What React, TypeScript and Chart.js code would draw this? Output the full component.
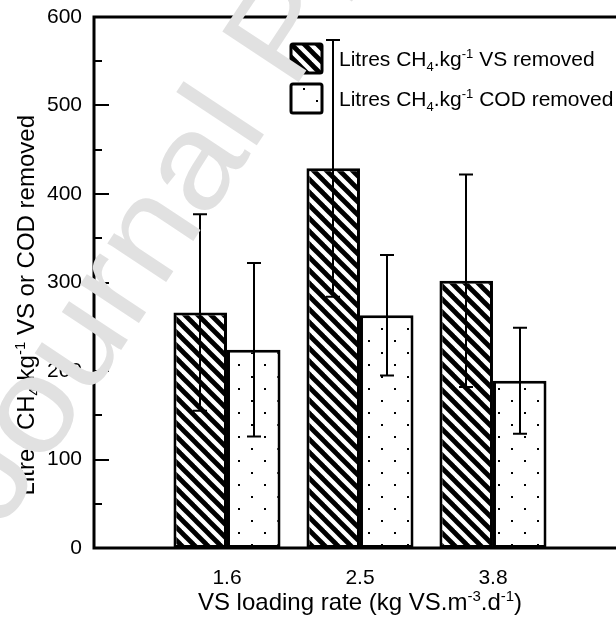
import React, { useEffect, useRef } from 'react';
import { Chart, registerables } from 'chart.js';

Chart.register(...registerables);

const categories = ['1.6', '2.5', '3.8'];
const vsRemoved = [266, 429, 302];
const vsError = [111, 145, 120];
const codRemoved = [224, 263, 189];
const codError = [98, 68, 60];
const yTicks = [0, 100, 200, 300, 400, 500, 600];
const yMinorTicks = [50, 150, 250, 350, 450, 550];
const seriesNames = [
  [{ t: 'Litres CH' }, { t: '4', k: 'sub' }, { t: '.kg' }, { t: '-1', k: 'sup' }, { t: ' VS removed' }],
  [{ t: 'Litres CH' }, { t: '4', k: 'sub' }, { t: '.kg' }, { t: '-1', k: 'sup' }, { t: ' COD removed' }],
];
const xTitle = [{ t: 'VS loading rate (kg VS.m' }, { t: '-3', k: 'sup' }, { t: '.d' }, { t: '-1', k: 'sup' }, { t: ')' }];
const yTitle = [{ t: 'Litres CH' }, { t: '4', k: 'sub' }, { t: '.kg' }, { t: '-1', k: 'sup' }, { t: ' VS or COD removed' }];
const watermark = 'Journal Pre-proof';

const FONT = '"Liberation Sans", Arial, sans-serif';

type Seg = { t: string; k?: string };

function segFont(size: number, k?: string) {
  return `${k ? Math.round(size * 0.62) : size}px ${FONT}`;
}

function richWidth(ctx: CanvasRenderingContext2D, segs: Seg[], size: number) {
  let w = 0;
  for (const s of segs) {
    ctx.font = segFont(size, s.k);
    w += ctx.measureText(s.t).width;
  }
  return w;
}

function drawRich(ctx: CanvasRenderingContext2D, segs: Seg[], x: number, y: number, size: number, align: string) {
  const w = richWidth(ctx, segs, size);
  let cx = align === 'center' ? x - w / 2 : align === 'right' ? x - w : x;
  ctx.textAlign = 'left';
  ctx.textBaseline = 'alphabetic';
  for (const s of segs) {
    ctx.font = segFont(size, s.k);
    const dy = s.k === 'sup' ? -size * 0.38 : s.k === 'sub' ? size * 0.22 : 0;
    ctx.fillText(s.t, cx, y + dy);
    cx += ctx.measureText(s.t).width;
  }
}

function makeHatch(): CanvasPattern {
  const P = 13;
  const c = document.createElement('canvas');
  c.width = P;
  c.height = P;
  const g = c.getContext('2d')!;
  g.fillStyle = '#fff';
  g.fillRect(0, 0, P, P);
  g.strokeStyle = '#000';
  g.lineWidth = 4.8;
  for (const o of [-P, 0, P]) {
    g.beginPath();
    g.moveTo(o - 2, -2);
    g.lineTo(o + P + 2, P + 2);
    g.stroke();
  }
  return g.createPattern(c, 'repeat')!;
}

function makeDots(): CanvasPattern {
  const W = 26, H = 24;
  const c = document.createElement('canvas');
  c.width = W;
  c.height = H;
  const g = c.getContext('2d')!;
  g.fillStyle = '#fff';
  g.fillRect(0, 0, W, H);
  g.fillStyle = '#000';
  g.fillRect(4, 4, 2, 2);
  g.fillRect(17, 16, 2, 2);
  return g.createPattern(c, 'repeat')!;
}

export default function App() {
  const ref = useRef<HTMLCanvasElement>(null);

  useEffect(() => {
    const canvas = ref.current!;
    const hatch = makeHatch();
    const dots = makeDots();
    const fills = [hatch, dots];
    const errs = [vsError, codError];
    const vals = [vsRemoved, codRemoved];

    const decor = {
      id: 'decor',
      afterDatasetsDraw(chart: any) {
        const ctx: CanvasRenderingContext2D = chart.ctx;
        const y = chart.scales.y;
        const a = chart.chartArea;
        ctx.save();
        // error bars
        ctx.strokeStyle = '#000';
        ctx.lineWidth = 2;
        for (let d = 0; d < 2; d++) {
          const meta = chart.getDatasetMeta(d);
          meta.data.forEach((el: any, i: number) => {
            const x = Math.round(el.x);
            const top = y.getPixelForValue(vals[d][i] + errs[d][i]);
            const bot = y.getPixelForValue(vals[d][i] - errs[d][i]);
            ctx.beginPath();
            ctx.moveTo(x, top);
            ctx.lineTo(x, bot);
            ctx.moveTo(x - 7, top);
            ctx.lineTo(x + 7, top);
            ctx.moveTo(x - 7, bot);
            ctx.lineTo(x + 7, bot);
            ctx.stroke();
          });
        }
        // frame
        ctx.lineWidth = 3;
        ctx.beginPath();
        ctx.moveTo(a.right + 2, a.top);
        ctx.lineTo(a.left, a.top);
        ctx.lineTo(a.left, a.bottom);
        ctx.lineTo(a.right + 2, a.bottom);
        ctx.stroke();
        // inward ticks
        ctx.lineWidth = 2;
        for (const v of yTicks) {
          const py = Math.round(y.getPixelForValue(v));
          ctx.beginPath();
          ctx.moveTo(a.left, py);
          ctx.lineTo(a.left + 15, py);
          ctx.stroke();
        }
        for (const v of yMinorTicks) {
          const py = Math.round(y.getPixelForValue(v));
          ctx.beginPath();
          ctx.moveTo(a.left, py);
          ctx.lineTo(a.left + 8, py);
          ctx.stroke();
        }
        ctx.restore();
      },
      afterDraw(chart: any) {
        const ctx: CanvasRenderingContext2D = chart.ctx;
        ctx.save();
        ctx.fillStyle = '#000';
        // legend
        const boxX = 291, boxW = 31, boxH = 29;
        const boxYs = [44, 84];
        for (let d = 0; d < 2; d++) {
          ctx.beginPath();
          ctx.roundRect(boxX, boxYs[d], boxW, boxH, 2);
          ctx.fillStyle = fills[d];
          ctx.fill();
          ctx.strokeStyle = '#000';
          ctx.lineWidth = 3;
          ctx.stroke();
          ctx.fillStyle = '#000';
          drawRich(ctx, seriesNames[d] as Seg[], 339, boxYs[d] + 22, 21, 'left');
        }
        // axis titles
        drawRich(ctx, xTitle as Seg[], 360, 610, 24, 'center');
        ctx.save();
        ctx.translate(34, 115);
        ctx.rotate(-Math.PI / 2);
        drawRich(ctx, yTitle as Seg[], 0, 0, 24, 'right');
        ctx.restore();
        // watermark
        ctx.save();
        ctx.translate(2, 530);
        ctx.rotate((-56.5 * Math.PI) / 180);
        ctx.scale(1.11, 1);
        ctx.fillStyle = '#e1e1e1';
        ctx.font = `133px ${FONT}`;
        ctx.textAlign = 'left';
        ctx.textBaseline = 'alphabetic';
        ctx.fillText(watermark, 0, 0);
        ctx.restore();
        ctx.restore();
      },
    };

    const chart = new Chart(canvas, {
      type: 'bar',
      data: {
        datasets: [0, 1].map((d) => ({
          label: (seriesNames[d] as Seg[]).map((s) => s.t).join(''),
          data: categories.map((_, i) => ({ x: i + 1, y: vals[d][i] })),
          backgroundColor: fills[d],
          borderColor: '#000',
          borderWidth: 3,
          borderSkipped: false,
          categoryPercentage: 0.805,
          barPercentage: 1,
        })),
      },
      options: {
        animation: false,
        responsive: false,
        devicePixelRatio: 1,
        layout: { padding: { top: 17, right: 0, left: 0, bottom: 0 } },
        plugins: { legend: { display: false }, tooltip: { enabled: false } },
        scales: {
          x: {
            type: 'linear',
            offset: false,
            min: 0,
            max: 3.925,
            grid: { display: false, drawTicks: false, offset: false },
            border: { display: false },
            afterBuildTicks: (s: any) => {
              s.ticks = categories.map((_, i) => ({ value: i + 1 }));
            },
            afterFit: (s: any) => {
              s.height = 73;
              s.paddingLeft = 0;
              s.paddingRight = 0;
            },
            ticks: {
              callback: (v: any) => categories[Number(v) - 1] ?? '',
              color: '#000',
              font: { size: 21, family: FONT },
              padding: 18,
              maxRotation: 0,
              autoSkip: false,
            },
          },
          y: {
            min: 0,
            max: 600,
            grid: { display: false, drawTicks: false },
            border: { display: false },
            afterBuildTicks: (s: any) => {
              s.ticks = yTicks.map((v) => ({ value: v }));
            },
            afterFit: (s: any) => {
              s.width = 94;
              s.paddingTop = 0;
              s.paddingBottom = 0;
            },
            ticks: {
              color: '#000',
              font: { size: 21, family: FONT },
              padding: 12,
            },
          },
        },
      },
      plugins: [decor],
    } as any);
    return () => chart.destroy();
  }, []);

  return (
    <div style={{ position: 'fixed', left: 0, top: 0, width: 616, height: 621, background: '#fff' }}>
      <canvas ref={ref} width={616} height={621} style={{ display: 'block' }} />
    </div>
  );
}
